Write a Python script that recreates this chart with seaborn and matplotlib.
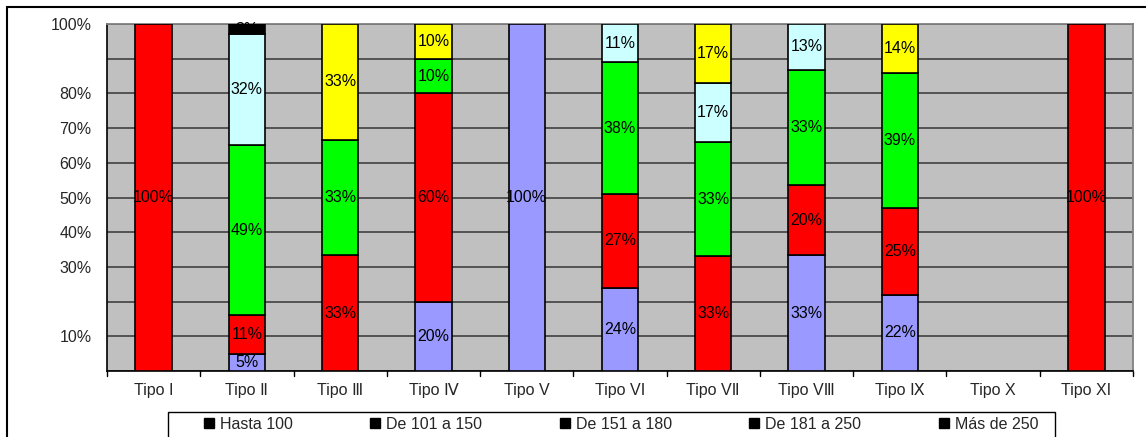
import pandas as pd
import numpy as np
import seaborn as sns
import matplotlib.pyplot as plt
from matplotlib.lines import Line2D
from matplotlib.patches import Rectangle

# data (percent of each tipo, bottom to top)
tipos = ['Tipo I', 'Tipo Ⅱ', 'Tipo Ⅲ', 'Tipo Ⅳ', 'Tipo V', 'Tipo VⅠ',
         'Tipo VⅡ', 'Tipo VⅢ', 'Tipo Ⅸ', 'Tipo X', 'Tipo XI']
series = ['Hasta 100', 'De 101 a 150', 'De 151 a 180', 'De 181 a 250', 'Más de 250']
hasta_100 = [0, 5, 0, 20, 100, 24, 0, 33, 22, 0, 0]
de_101_150 = [100, 11, 33, 60, 0, 27, 33, 20, 25, 0, 100]
de_151_180 = [0, 49, 33, 10, 0, 38, 33, 33, 39, 0, 0]
de_181_250 = [0, 32, 0, 0, 0, 11, 17, 13, 0, 0, 0]
mas_250 = [0, 3, 33, 10, 0, 0, 17, 0, 14, 0, 0]
values = [hasta_100, de_101_150, de_151_180, de_181_250, mas_250]
colors = ['#9999FF', '#FF0000', '#00FF00', '#CCFFFF', '#FFFF00']
y_labels = ['', '10%', '', '30%', '40%', '50%', '60%', '70%', '80%', '', '100%']

sns.set_style('white')
plt.rcParams['font.family'] = ['Liberation Sans', 'DejaVu Sans']
fs = 11.5

fig = plt.figure(figsize=(11.46, 4.37), dpi=100)
ax = fig.add_axes([107 / 1146, 1 - 371 / 437, (1133 - 107) / 1146, (371 - 24) / 437])
ax.set_facecolor('#C0C0C0')

totals = np.array(values, dtype=float).sum(axis=0)
totals[totals == 0] = 1
bottom = np.zeros(len(tipos))
for name, vals, col in zip(series, values, colors):
    vals = np.array(vals, dtype=float)
    h = vals / totals * 100
    df = pd.DataFrame({'tipo': tipos, 'pct': h})
    n_before = len(ax.patches)
    sns.barplot(data=df, x='tipo', y='pct', color=col, order=tipos,
                bottom=bottom, width=0.39, edgecolor='black', linewidth=1.2,
                ax=ax, saturation=1, zorder=3)
    new = ax.patches[n_before:]
    for i, p in enumerate(new):
        if h[i] == 0:
            p.set_visible(False)
        if name == 'Más de 250' and tipos[i] == 'Tipo Ⅱ':
            p.set_facecolor('black')
    for i, v in enumerate(h):
        if v > 0:
            ax.text(i, bottom[i] + v / 2, f'{vals[i]:.0f}%', ha='center', va='center',
                    fontsize=fs, color='black', zorder=4)
    bottom = bottom + h

ax.set_xlim(-0.5, len(tipos) - 0.5)
ax.set_ylim(0, 100)
ax.set_yticks(np.arange(0, 101, 10))
ax.set_yticklabels(y_labels, fontsize=fs)
ax.set_xticks(range(len(tipos)))
ax.set_xticklabels(tipos, fontsize=fs)
ax.tick_params(axis='x', length=0, pad=9)
ax.tick_params(axis='y', length=4, width=1, direction='out', pad=7, color='black')
for b in np.arange(-0.5, len(tipos), 1):
    ax.plot([b, b], [0, -1.4], color='black', lw=1, clip_on=False)
ax.grid(axis='y', color='#4a4a4a', lw=1.3, zorder=1)
ax.set_axisbelow(True)
ax.set_xlabel('')
ax.set_ylabel('')
for s in ['top', 'right']:
    ax.spines[s].set_color('#808080')
    ax.spines[s].set_linewidth(1.3)
for s in ['left', 'bottom']:
    ax.spines[s].set_color('black')
    ax.spines[s].set_linewidth(1.2)

handles = [Line2D([], [], marker='s', color='black', lw=0, markersize=7) for _ in series]
leg = fig.legend(handles, series, loc='upper left', ncol=5, mode='expand',
                 bbox_to_anchor=(196 / 1146, 1 - 412 / 437, (1043 - 196) / 1146, 0),
                 frameon=False, fontsize=fs, handletextpad=0.2,
                 borderaxespad=0, handlelength=1.0, borderpad=0.3)
fig.patches.append(Rectangle((168 / 1146, -0.05), (1055 - 168) / 1146, 1 - 412 / 437 + 0.05,
                             transform=fig.transFigure, fill=False, edgecolor='black', lw=1))

fig.patches.append(Rectangle((7 / 1146, -0.05), 1.2, 1 - 7 / 437 + 0.05,
                             transform=fig.transFigure, fill=False, edgecolor='black', lw=1.5))

fig.savefig('out.png', dpi=100)
